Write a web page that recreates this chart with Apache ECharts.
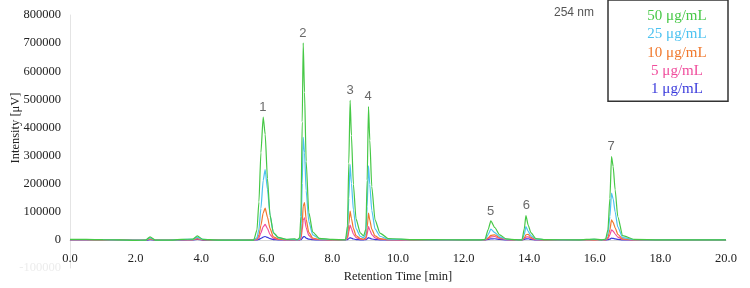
<!DOCTYPE html>
<html><head><meta charset="utf-8">
<script src="https://cdn.jsdelivr.net/npm/echarts@6/dist/echarts.min.js"></script>
<style>html,body{margin:0;padding:0;background:#fff}#c{width:750px;height:288px}</style>
</head><body><div id="c"></div>
<script>
// Retention times (min) shared by all traces
var times = [0,0.5,1.0,1.5,2.0,2.3,2.44,2.6,3.0,3.4,3.75,3.88,4.05,4.5,5.0,5.6,
  5.7,5.76,5.82,5.89,5.95,6.02,6.1,6.2,6.35,6.6,
  6.85,6.92,
  7.0,7.04,7.08,7.11,7.15,7.2,7.28,7.4,7.6,
  8.0,8.4,
  8.46,8.5,8.54,8.58,8.64,8.72,8.85,8.95,
  9.02,9.06,9.1,9.14,9.2,9.3,9.45,9.7,
  10.5,11.5,12.5,
  12.65,12.75,12.83,12.95,13.1,13.3,13.6,
  13.78,13.85,13.9,13.97,14.05,14.2,14.5,
  15.5,15.98,16.2,
  16.33,16.4,16.46,16.51,16.56,16.62,16.7,16.85,17.2,
  18,19,20];

var conc50 = [1500,1500,1000,0,-1500,-1000,11000,-500,-1000,1500,3000,14000,2000,-500,-1000,-500,
  35000,135000,310000,437000,376000,218000,87000,26000,9000,2000,
  3500,500,
  7000,84000,420000,701000,525000,280000,98000,28000,5600,
  1500,500,
  50000,273000,496000,372000,198000,75000,25000,14000,
  38000,213000,474000,355000,190000,71000,24000,5000,
  1000,500,0,
  1500,37000,67600,44000,18000,3500,700,
  0,39000,86500,52000,26000,5000,900,
  0,3000,0,
  3000,36000,148000,296500,261000,178000,83000,15000,1500,
  0,0,0];

var conc25 = [1000,1000,500,0,-1000,-800,7000,-500,-800,1000,2000,9000,1500,-500,-800,-500,
  7500,37500,112000,212000,250000,180000,87000,25000,7500,1200,
  2000,300,
  1800,29000,200000,365000,310000,175000,66000,18000,3600,
  800,300,
  27000,147000,268000,201000,107000,40000,13000,7000,
  21000,118000,263000,197000,105000,39000,13000,2600,
  500,300,0,
  800,19000,38000,26000,11000,2200,400,
  0,19000,47000,30000,15000,3000,500,
  0,1800,0,
  1700,20000,83000,166000,146000,100000,46000,8300,800,
  0,0,0];

var conc10 = [500,500,300,0,-800,-600,4000,-400,-600,500,1200,5000,800,-300,-500,-300,
  3400,17000,51000,96000,113000,81000,40000,11000,3400,600,
  1000,100,
  700,8000,60000,120000,133000,73000,27000,6700,1300,
  400,100,
  10000,56000,102000,77000,41000,15000,5000,2600,
  7600,43000,95000,71000,38000,14000,4800,1000,
  300,100,0,
  300,7000,16000,18000,8000,1800,300,
  0,7000,18000,20000,9000,1500,200,
  0,800,0,
  700,8500,35500,71000,62000,43000,20000,3500,350,
  0,0,0];

var conc5 = [300,300,200,0,-600,-500,3000,-300,-500,300,800,3500,500,-300,-400,-300,
  1600,8000,25000,47000,55000,40000,19000,5500,1600,300,
  600,100,
  400,4700,35000,70000,78000,43000,16000,3900,800,
  200,100,
  5300,29000,53000,40000,21000,8000,2600,1300,
  3800,21000,47000,35000,19000,7000,2400,500,
  200,100,0,
  200,4500,10500,12000,5500,1200,200,
  0,4000,10000,11000,5000,800,100,
  0,400,0,
  350,4300,17700,35500,31000,21000,10000,1800,200,
  0,0,0];

var conc1 = [200,200,100,0,-1500,-1800,500,-1500,-1200,-800,0,1500,-500,-800,-800,-600,
  400,1800,5400,10000,12000,8600,4200,1200,400,100,
  200,0,
  100,700,5400,10800,12000,6600,2400,600,100,
  0,0,
  800,4400,8000,6000,3200,1200,400,200,
  640,3600,8000,6000,3200,1200,400,80,
  0,0,0,
  60,1500,3500,4000,1800,400,60,
  0,1500,3600,4000,1800,300,50,
  0,1000,0,
  60,720,3000,6000,5300,3600,1700,300,30,
  0,0,0];

var seriesNames = ['50 μg/mL','25 μg/mL','10 μg/mL','5 μg/mL','1 μg/mL'];
var seriesColors = ['#46c846','#4cc2f0','#f0782c','#f04c9c','#3a3adc'];

var peakNames = ['1','2','3','4','5','6','7'];
var peakLabelTimes = [5.88,7.10,8.54,9.09,12.82,13.91,16.50];
var peakLabelValues = [470000,733000,532000,509000,101000,123000,331000];

var xTicks = {min:0, max:20, interval:2};
var yTicks = {min:-100000, max:800000, interval:100000};

function pairs(vals){ return times.map(function(t,i){ return [t, vals[i]]; }); }
var allVals = [conc50, conc25, conc10, conc5, conc1];

var series = [];
for (var k = allVals.length - 1; k >= 0; k--) {
  series.push({
    name: seriesNames[k], type:'line', data: pairs(allVals[k]),
    showSymbol:false, smooth:0.2, smoothMonotone:'x',
    lineStyle:{width:1.2, color:seriesColors[k]}, itemStyle:{color:seriesColors[k]},
    z: 2 + (allVals.length - k)
  });
}
series.push({
  type:'scatter', name:'peaks', symbolSize:1, itemStyle:{color:'rgba(0,0,0,0)'},
  data: peakNames.map(function(n,i){ return {value:[peakLabelTimes[i], peakLabelValues[i]], name:n}; }),
  label:{show:true, position:'inside', formatter:'{b}', color:'#444', fontFamily:'Liberation Sans', fontSize:13},
  z: 20, silent:true
});

var legendRich = {};
seriesColors.forEach(function(c,i){
  legendRich['s'+i] = {color:c, fontFamily:'Liberation Serif', fontSize:15, lineHeight:16, width:88, align:'center'};
});

var chart = echarts.init(document.getElementById('c'), null, {renderer:'canvas'});
chart.setOption({
  animation:false,
  backgroundColor:'#fff',
  grid:{left:70, right:24, top:15, bottom:20, containLabel:false, outerBoundsMode:'none'},
  xAxis:{
    type:'value', min:xTicks.min, max:xTicks.max, interval:xTicks.interval,
    offset:-28,
    name:'Retention Time [min]', nameLocation:'middle', nameGap:28,
    nameTextStyle:{fontFamily:'Liberation Serif', fontSize:12.5, color:'#222'},
    axisLine:{onZero:false, lineStyle:{color:'#d8d8d8'}},
    axisTick:{show:false},
    splitLine:{show:false},
    axisLabel:{fontFamily:'Liberation Serif', fontSize:12.5, color:'#222', margin:12,
      formatter:function(v){ return v.toFixed(1); }}
  },
  yAxis:{
    type:'value', min:yTicks.min, max:yTicks.max, interval:yTicks.interval,
    name:'Intensity [μV]', nameLocation:'middle', nameGap:48, nameMoveOverlap:false,
    nameTextStyle:{fontFamily:'Liberation Serif', fontSize:12.5, color:'#222', padding:[0,0,0,27]},
    axisLine:{show:true, lineStyle:{color:'#e4e4e4'}},
    axisTick:{show:false},
    splitLine:{show:false},
    axisLabel:{fontFamily:'Liberation Serif', fontSize:12.5, margin:9,
      formatter:function(v){ return String(Math.round(v)); },
      color:function(v){ return Number(v) < 0 ? '#ececec' : '#222'; }}
  },
  legend:{
    orient:'vertical', right:22, top:0,
    icon:'none', itemWidth:0, itemHeight:14, itemGap:2.3,
    padding:[8,7,4,20],
    borderColor:'#333', borderWidth:1.5, backgroundColor:'#fff',
    formatter:function(name){ var i = seriesNames.indexOf(name); return '{s'+i+'|'+name+'}'; },
    textStyle:{fontFamily:'Liberation Serif', fontSize:15, lineHeight:16, rich:legendRich},
    data: seriesNames.map(function(n,i){ return {name:n, icon:'none', textStyle:{color:seriesColors[i]}}; }),
    selectedMode:false
  },
  graphic:[{
    type:'text', left:554, top:7,
    style:{text:'254 nm', fontFamily:'Liberation Sans', fontSize:12, fill:'#555'}
  }],
  series: series
});
</script>
</body></html>
